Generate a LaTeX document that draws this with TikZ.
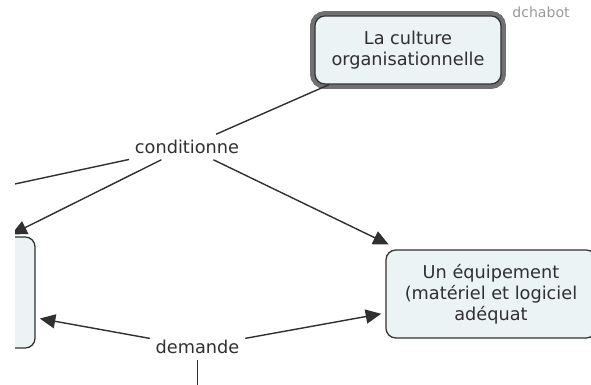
\documentclass[tikz,border=0pt]{standalone}
\usepackage{fontspec}
\setmainfont{DejaVu Sans}
\usetikzlibrary{arrows.meta}
\definecolor{fond}{HTML}{EBF3F5}
\definecolor{trait}{HTML}{303030}
\definecolor{cadre}{HTML}{707070}
\begin{document}
\begin{tikzpicture}[x=0.025cm,y=-0.025cm,
  concept/.style={draw=trait, line width=0.9pt, fill=fond, rounded corners=7pt,
    align=center, font=\fontsize{12.6}{15}\selectfont, text=trait},
  lien/.style={font=\fontsize{12.6}{15}\selectfont, text=trait, inner sep=4pt},
  fleche/.style={draw=trait, line width=1pt, -{Triangle[length=11pt,width=10pt]}, shorten >=3pt}]
\useasboundingbox (0,0) rectangle (591,385);
\clip (15,0) rectangle (591,385);
\node[concept, minimum width=4.65cm, minimum height=1.7cm,
  preaction={draw=cadre, line width=7pt}] (culture) at (408,50)
  {La culture\\organisationnelle};
\node[concept, minimum width=5.25cm, minimum height=2.2cm] (equipement) at (491,294)
  {Un équipement\\(matériel et logiciel\\adéquat};
\node[concept, minimum width=7cm, minimum height=2.775cm] (gauche) at (-105,292.5) {};
\node[lien] (conditionne) at (187,147) {conditionne};
\node[lien] (demande) at (197.5,347) {demande};
\node[font=\fontsize{10}{12}\selectfont, text=gray!80] (auteur) at (541,12) {dchabot};
\coordinate (horsgauche) at (-20,191.5);
\coordinate (bas) at (197.5,420);
\draw[trait, line width=1pt] (culture) -- (conditionne);
\draw[trait, line width=1pt] (conditionne) -- (horsgauche);
\draw[fleche] (conditionne) -- (gauche);
\draw[fleche, shorten >=8pt] (conditionne) -- (equipement);
\draw[fleche] (demande) -- (gauche);
\draw[fleche] (demande) -- (equipement);
\draw[trait, line width=1pt] (demande) -- (bas);
\end{tikzpicture}
\end{document}
